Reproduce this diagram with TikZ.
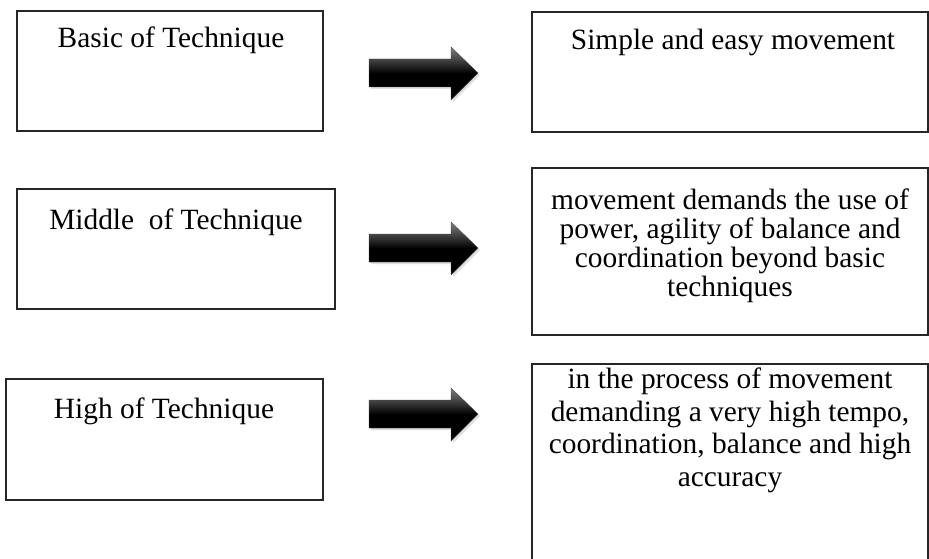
\documentclass[tikz,border=0pt]{standalone}
\usepackage{fontspec}
\setmainfont{Liberation Serif}
\usetikzlibrary{shadows}
\tikzset{
  box/.style={draw=black!85, line width=1.3pt, fill=none},
  lbl/.style={anchor=base, inner sep=0pt, font=\fontsize{29.4}{29.4}\selectfont},
  para/.style={anchor=north, inner sep=0pt, align=center, font=\fontsize{29.4}{#1}\selectfont},
  blockarrow/.style={top color=black!50, bottom color=black, middle color=black, draw=black!70, line width=0.4pt,
     drop shadow={opacity=0.25, shadow xshift=2pt, shadow yshift=-2pt}}
}
\begin{document}
\begin{tikzpicture}[x=1pt,y=-1pt]
\useasboundingbox (0,0) rectangle (929,559);
% left boxes
\draw[box] (17,11) rectangle (323,131) node[pos=0, anchor=north west, inner sep=0pt] (b1) {};
\draw[box] (17,189) rectangle (335,309) node[pos=0, anchor=north west, inner sep=0pt] (b2) {};
\draw[box] (6,379) rectangle (323,500) node[pos=0, anchor=north west, inner sep=0pt] (b3) {};
% right boxes
\draw[box] (532,12) rectangle (928,132) node[pos=0, anchor=north west, inner sep=0pt] (r1) {};
\draw[box] (532,168) rectangle (928,335) node[pos=0, anchor=north west, inner sep=0pt] (r2) {};
\draw[box] (532,364) rectangle (928,600) node[pos=0, anchor=north west, inner sep=0pt] (r3) {};
% texts
\node[lbl] (t1) at (171,48) {Basic of Technique};
\node[lbl] (t2) at (176,229) {Middle\ \ of Technique};
\node[lbl] (t3) at (164,418) {High of Technique};
\node[lbl] (s1) at (733,50) {Simple and easy movement};
\node[para=28.7] (s2) at (730,189) {movement demands the use of\\power, agility of balance and\\coordination beyond basic\\techniques};
\node[para=32.5] (s3) at (730,368) {in the process of movement\\demanding a very high tempo,\\coordination, balance and high\\accuracy};
% block arrows
\foreach \n/\c in {a1/73, a2/248, a3/414}{
  \coordinate (\n) at (369,\c);
  \shade[blockarrow] (\n) ++(0,-14) -- ++(82,0) -- ++(0,-12) -- ++(27,26) -- ++(-27,27) -- ++(0,-13) -- ++(-82,0) -- cycle;
}
\end{tikzpicture}
\end{document}
